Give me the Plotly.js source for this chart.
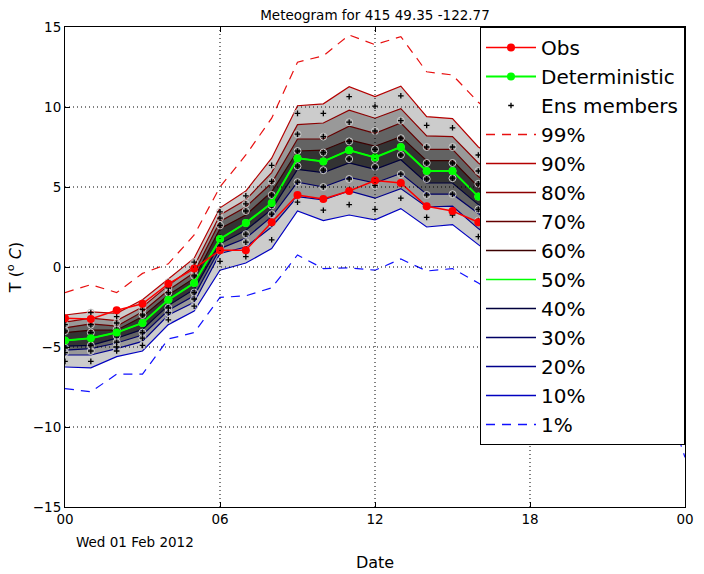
<!DOCTYPE html>
<html>
<head>
<meta charset="utf-8">
<script src="https://cdn.plot.ly/plotly-3.0.1.min.js"></script>
<style>
  body { margin: 0; background: white; }
  #myDiv { width: 704px; height: 574px; }
</style>
</head>
<body>
<div id="myDiv"></div>
<script>
// hours after 00 UTC, Wed 01 Feb 2012
let hours = [0, 1, 2, 3, 4, 5, 6, 7, 8, 9, 10, 11, 12, 13, 14, 15, 16, 17, 18, 19, 20, 21, 22, 23, 24];
let xTickVals = [0, 6, 12, 18, 24];
let xTickText = ["00", "06", "12", "18", "00"];
let yTickVals = [-15, -10, -5, 0, 5, 10, 15];

let obs = [-3.2, -3.25, -2.7, -2.3, -1.05, -0.1, 1.05, 1.05, 2.8, 4.5, 4.25, 4.75, 5.4, 5.25, 3.8, 3.5, 2.8, 2.1, 1.5, 1.0, 0.6, 0.3, 0.0, -0.3, -0.6];
let deterministic = [-4.6, -4.45, -4.1, -3.5, -2.05, -1.0, 1.75, 2.75, 4.0, 6.8, 6.6, 7.3, 6.85, 7.5, 6.0, 6.0, 4.4, 3.3, 2.6, 2.0, 1.5, 1.1, 0.7, 0.4, 0.1];

// percentiles of the ensemble
let p99 = [-1.6, -1.1, -1.6, -0.4, 0.2, 2.0, 5.0, 7.0, 9.3, 12.8, 13.2, 14.5, 13.9, 14.4, 12.2, 12.0, 10.3, 9.0, 8.0, 7.3, 6.8, 6.4, 6.0, 5.6, 5.3];
let p90 = [-3.0, -2.8, -2.9, -2.05, -0.75, 0.55, 3.7, 4.75, 6.8, 10.08, 10.2, 11.27, 10.65, 11.3, 9.4, 9.27, 7.5, 6.5, 5.8, 5.2, 4.7, 4.3, 3.9, 3.6, 3.3];
let p80 = [-3.45, -3.2, -3.35, -2.5, -1.15, 0.05, 3.25, 4.2, 5.9, 8.9, 9.0, 9.8, 9.3, 9.9, 8.2, 8.15, 6.5, 5.4, 4.7, 4.1, 3.6, 3.2, 2.8, 2.5, 2.2];
let p70 = [-3.8, -3.55, -3.7, -2.8, -1.45, -0.35, 2.85, 3.75, 5.25, 8.0, 8.0, 8.8, 8.35, 9.0, 7.35, 7.35, 5.65, 4.6, 3.9, 3.3, 2.8, 2.4, 2.0, 1.7, 1.4];
let p60 = [-4.1, -3.95, -3.95, -3.1, -1.75, -0.7, 2.4, 3.25, 4.7, 7.25, 7.3, 7.95, 7.55, 8.15, 6.65, 6.65, 5.0, 3.9, 3.2, 2.6, 2.1, 1.7, 1.3, 1.0, 0.7];
let p50 = [-4.6, -4.45, -4.1, -3.5, -2.05, -1.0, 1.75, 2.75, 4.0, 6.8, 6.6, 7.3, 6.85, 7.5, 6.0, 6.0, 4.4, 3.3, 2.6, 2.0, 1.5, 1.1, 0.7, 0.4, 0.1];
let p40 = [-4.95, -4.9, -4.45, -3.9, -2.4, -1.4, 1.45, 2.3, 3.6, 6.1, 5.9, 6.5, 6.1, 6.7, 5.25, 5.25, 3.9, 2.7, 2.0, 1.4, 0.9, 0.5, 0.1, -0.2, -0.5];
let p30 = [-5.2, -5.1, -4.75, -4.25, -2.7, -1.8, 1.15, 1.8, 3.15, 5.3, 5.0, 5.6, 5.25, 5.85, 4.55, 4.55, 3.35, 2.1, 1.3, 0.7, 0.2, -0.2, -0.6, -0.9, -1.2];
let p20 = [-5.5, -5.5, -5.1, -4.65, -3.0, -2.2, 0.85, 1.25, 2.5, 4.4, 4.2, 4.75, 4.3, 4.9, 3.75, 3.8, 2.4, 1.2, 0.4, -0.2, -0.7, -1.1, -1.5, -1.8, -2.1];
let p10 = [-6.25, -6.3, -5.6, -5.25, -3.6, -2.75, -0.2, 0.25, 1.15, 3.5, 2.9, 3.25, 2.95, 3.65, 2.5, 2.65, 1.4, 0.2, -0.7, -1.4, -2.0, -2.5, -3.0, -3.4, -3.8];
let p1 = [-7.6, -7.8, -6.7, -6.7, -4.5, -4.1, -1.9, -1.8, -1.3, 0.75, -0.1, -0.05, -0.2, 0.5, -0.25, -0.1, -1.0, -2.0, -3.0, -3.8, -4.6, -5.4, -6.2, -7.0, -11.9];

// ensemble members
let member1 = [-3.2, -2.85, -3.1, -2.3, -0.95, 0.3, 3.45, 4.45, 6.35, 9.6, 9.6, 10.65, 10.05, 10.7, 8.85, 8.7, 7.0, 6.0, 5.2, 4.6, 4.1, 3.7, 3.3, 3.0, 2.7];
let member2 = [-3.6, -3.25, -3.5, -2.65, -1.3, -0.2, 3.05, 3.95, 5.35, 8.3, 8.15, 9.05, 8.5, 9.15, 7.5, 7.5, 6.0, 5.0, 4.2, 3.6, 3.1, 2.7, 2.3, 2.0, 1.7];
let member3 = [-4.0, -3.6, -3.9, -3.0, -1.6, -0.55, 2.6, 3.5, 4.5, 7.25, 7.15, 7.85, 7.35, 8.05, 6.5, 6.5, 5.2, 4.2, 3.5, 2.9, 2.4, 2.0, 1.6, 1.3, 1.0];
let member4 = [-4.6, -4.1, -4.3, -3.5, -2.05, -1.0, 1.75, 2.75, 3.85, 6.8, 6.6, 7.3, 6.75, 7.5, 6.0, 6.0, 4.4, 3.3, 2.6, 2.0, 1.5, 1.1, 0.7, 0.4, 0.1];
let member5 = [-5.05, -4.9, -4.7, -4.1, -2.55, -1.6, 1.3, 2.05, 3.3, 6.3, 6.05, 6.75, 6.25, 7.0, 5.5, 5.55, 3.6, 2.4, 1.6, 1.0, 0.5, 0.1, -0.3, -0.6, -0.9];
let member6 = [-5.35, -5.25, -5.0, -4.45, -2.85, -2.0, 1.0, 1.55, 2.7, 5.3, 5.0, 5.5, 5.1, 5.8, 4.5, 4.55, 2.9, 1.6, 0.8, 0.2, -0.3, -0.7, -1.1, -1.4, -1.7];
let member7 = [-5.9, -5.9, -5.25, -4.9, -3.3, -2.45, 0.35, 0.65, 1.7, 4.05, 3.55, 3.9, 3.6, 4.3, 3.1, 3.25, 1.9, 0.7, -0.2, -0.9, -1.5, -2.0, -2.5, -2.9, -3.3];

let dashed = "9px,7px";

// percentile lines: values, legend name, colour, dash
let pctLines = [
  [p99, "99%", "#e81010", dashed],
  [p90, "90%", "#b40000", "solid"],
  [p80, "80%", "#8c0000", "solid"],
  [p70, "70%", "#640000", "solid"],
  [p60, "60%", "#3c0000", "solid"],
  [p50, "50%", "#00ff00", "solid"],
  [p40, "40%", "#00003c", "solid"],
  [p30, "30%", "#000064", "solid"],
  [p20, "20%", "#00008c", "solid"],
  [p10, "10%", "#0000c0", "solid"],
  [p1, "1%", "#1010ff", dashed]
];

function bandPair(lower, upper, fillcolor) {
  return [
    { x: hours, y: lower, mode: "lines", line: { width: 0 }, showlegend: false, hoverinfo: "skip" },
    { x: hours, y: upper, mode: "lines", line: { width: 0 }, fill: "tonexty", fillcolor: fillcolor, showlegend: false, hoverinfo: "skip" }
  ];
}

let obsStyle = { line: { color: "#ff0000", width: 1.5 }, marker: { color: "#ff0000", size: 8 } };
let detStyle = { line: { color: "#00ff00", width: 2 }, marker: { color: "#00ff00", size: 8 } };
let ensStyle = { symbol: "cross-thin", size: 4, color: "black", line: { width: 1.3, color: "black" } };

function drawGraph() {
  let data = [];

  // shaded bands, outer to inner
  data.push(...bandPair(p10, p90, "#cccccc"));
  data.push(...bandPair(p20, p80, "#999999"));
  data.push(...bandPair(p30, p70, "#636363"));
  data.push(...bandPair(p40, p60, "#333333"));

  pctLines.forEach(p => {
    data.push({
      x: hours, y: p[0], mode: "lines", showlegend: false,
      line: { color: p[2], width: 1.2, dash: p[3] }
    });
  });

  // ensemble members as scattered points
  let ensX = [];
  let ensY = [];
  [member1, member2, member3, member4, member5, member6, member7].forEach(m => {
    m.forEach((v, i) => {
      ensX.push(hours[i]);
      ensY.push(v);
    });
  });

  data.push({
    x: ensX, y: ensY, mode: "markers", showlegend: false, hoverinfo: "skip",
    marker: { symbol: "circle-open", size: 7, color: "#c8c8c8", line: { width: 1, color: "#c8c8c8" } }
  });
  data.push({ x: ensX, y: ensY, mode: "markers", showlegend: false, marker: ensStyle });

  data.push({ x: hours, y: deterministic, mode: "lines+markers", showlegend: false,
    line: detStyle.line, marker: detStyle.marker });
  data.push({ x: hours, y: obs, mode: "lines+markers", showlegend: false,
    line: obsStyle.line, marker: obsStyle.marker });

  // legend entries in the original order
  data.push({ x: [null], y: [null], mode: "lines+markers", name: "Obs", line: obsStyle.line, marker: obsStyle.marker });
  data.push({ x: [null], y: [null], mode: "lines+markers", name: "Deterministic", line: detStyle.line, marker: detStyle.marker });
  data.push({ x: [null], y: [null], mode: "markers", name: "Ens members", marker: ensStyle });
  pctLines.forEach(p => {
    data.push({ x: [null], y: [null], mode: "lines", name: p[1],
      line: { color: p[2], width: 1.5, dash: p[3] } });
  });

  // dotted grid drawn on top of the fills, like the original
  let shapes = [];
  xTickVals.slice(1, -1).forEach(v => {
    shapes.push({ type: "line", xref: "x", yref: "paper", x0: v, x1: v, y0: 0, y1: 1, layer: "above",
      line: { color: "#000", width: 1, dash: "1px,3px" } });
  });
  yTickVals.slice(1, -1).forEach(v => {
    shapes.push({ type: "line", xref: "paper", yref: "y", x0: 0, x1: 1, y0: v, y1: v, layer: "above",
      line: { color: "#000", width: 1, dash: "1px,3px" } });
  });

  let layout = {
    width: 704,
    height: 574,
    margin: { l: 65, r: 19, t: 27, b: 67 },
    paper_bgcolor: "white",
    plot_bgcolor: "white",
    font: { family: "DejaVu Sans", size: 13.5, color: "black" },
    title: {
      text: "Meteogram for 415 49.35 -122.77",
      font: { size: 13.5 },
      x: 0.5,
      xref: "paper",
      y: 1 - 15 / 574,
      yref: "container",
      yanchor: "middle"
    },
    xaxis: {
      range: [0, 24],
      tickvals: xTickVals,
      ticktext: xTickText,
      showgrid: false,
      zeroline: false,
      showline: true,
      linecolor: "black",
      linewidth: 1,
      mirror: "ticks",
      ticks: "inside",
      ticklen: 5,
      tickcolor: "black",
      title: { text: "Date", standoff: 30 }
    },
    yaxis: {
      range: [-15, 15],
      tickvals: yTickVals,
      showgrid: false,
      zeroline: false,
      showline: true,
      linecolor: "black",
      linewidth: 1,
      mirror: "ticks",
      ticks: "inside",
      ticklen: 5,
      tickcolor: "black",
      title: { text: "T (<sup>o</sup> <i>C</i>)", standoff: 7 }
    },
    legend: {
      x: 1,
      xanchor: "right",
      y: 1,
      yanchor: "top",
      bgcolor: "white",
      bordercolor: "black",
      borderwidth: 1,
      traceorder: "normal",
      itemwidth: 50,
      font: { size: 20 }
    },
    shapes: shapes,
    annotations: [
      { text: "Wed 01 Feb 2012", xref: "paper", yref: "paper", x: 0.113, y: -0.073,
        xanchor: "center", yanchor: "middle", showarrow: false }
    ]
  };

  Plotly.newPlot("myDiv", data, layout, { displayModeBar: false });
}

drawGraph();
</script>
</body>
</html>
